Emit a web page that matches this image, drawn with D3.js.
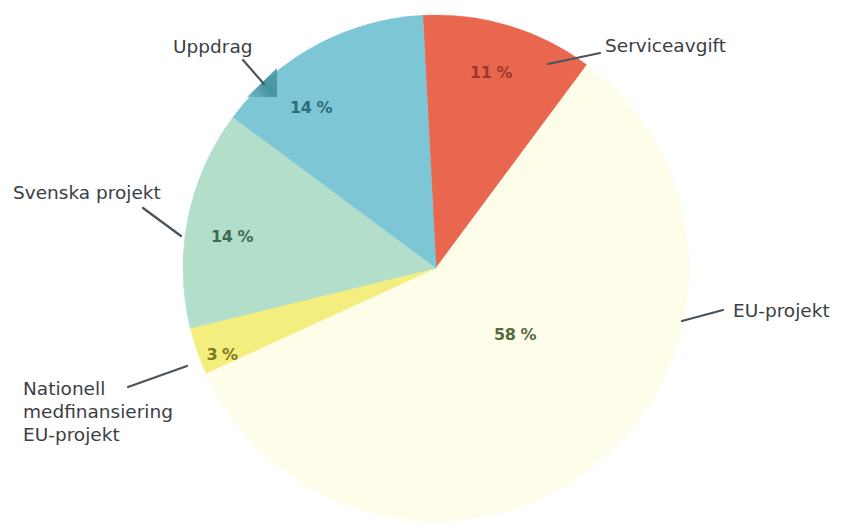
<!DOCTYPE html>
<html>
<head>
<meta charset="utf-8">
<script src="https://cdn.jsdelivr.net/npm/d3@7"></script>
<style>
  html, body { margin: 0; padding: 0; background: #fff; }
  svg { display: block; }
</style>
</head>
<body>
<svg id="chart" width="841" height="527"></svg>
<script>
// ---- data ----
const categories = ["Serviceavgift", "EU-projekt", "Nationell medfinansiering EU-projekt", "Svenska projekt", "Uppdrag"];
const values = [11, 58, 3, 14, 14];
const valueLabels = ["11 %", "58 %", "3 %", "14 %", "14 %"];

// ---- styling / layout ----
const sliceColors = ["#e9664f", "url(#euGrad)", "#f4ee7e", "#b3dec9", "#7dc6d6"];
const valueColors = ["#9b3a2c", "#566a3c", "#7c7a1c", "#3f6b56", "#2d6c7a"];
const cx = 436, cy = 268, radius = 253;
const startDeg = -3;

// value label positions (centre of text, baseline)
const valuePos = [[491, 78], [515, 340], [222, 360], [232, 242], [311, 113]];

// category labels: lines of text, anchor x, first baseline, leader line
const catLabels = [
  { lines: ["Serviceavgift"], x: 605, y: 52, leader: [548, 64, 600, 53] },
  { lines: ["EU-projekt"], x: 733, y: 317, leader: [682, 321, 723, 310] },
  { lines: ["Nationell", "medfinansiering", "EU-projekt"], x: 23, y: 395, leader: [128, 387, 187, 366] },
  { lines: ["Svenska projekt"], x: 13, y: 199, leader: [143, 208, 181, 236] },
  { lines: ["Uppdrag"], x: 173, y: 53, leader: [243, 60, 264, 84] }
];

const svg = d3.select("#chart");
const defs = svg.append("defs");
const rg = defs.append("radialGradient").attr("id", "euGrad")
  .attr("gradientUnits", "userSpaceOnUse")
  .attr("cx", cx - 30).attr("cy", cy + 40).attr("r", radius);
rg.append("stop").attr("offset", "0%").attr("stop-color", "#fafbd4");
rg.append("stop").attr("offset", "70%").attr("stop-color", "#fbfcdc");
rg.append("stop").attr("offset", "100%").attr("stop-color", "#fdfdea");

const tg = defs.append("linearGradient").attr("id", "triGrad")
  .attr("x1", "0%").attr("y1", "100%").attr("x2", "100%").attr("y2", "0%");
tg.append("stop").attr("offset", "0%").attr("stop-color", "#6fb7c3");
tg.append("stop").attr("offset", "50%").attr("stop-color", "#3f8f9a");
tg.append("stop").attr("offset", "100%").attr("stop-color", "#4e9ea9");

const pie = d3.pie().sort(null)
  .startAngle(startDeg * Math.PI / 180)
  .endAngle(startDeg * Math.PI / 180 + 2 * Math.PI);
const arcs = pie(values);
const arc = d3.arc().innerRadius(0).outerRadius(radius);

const g = svg.append("g").attr("transform", `translate(${cx},${cy})`);
g.selectAll("path.slice").data(arcs).enter().append("path")
  .attr("class", "slice")
  .attr("d", arc)
  .attr("fill", (d, i) => sliceColors[i])
  .attr("stroke", (d, i) => sliceColors[i].startsWith("url") ? "#fbfcdc" : sliceColors[i])
  .attr("stroke-width", 0.5);

// small wedge marker on Uppdrag leader
svg.append("path")
  .attr("d", "M277,68 L247,97 L277,97 Z")
  .attr("fill", "url(#triGrad)")
  .attr("opacity", 0.9);

// value labels
svg.selectAll("text.val").data(arcs).enter().append("text")
  .attr("class", "val")
  .attr("x", (d, i) => valuePos[i][0])
  .attr("y", (d, i) => valuePos[i][1])
  .attr("text-anchor", "middle")
  .attr("font-family", "DejaVu Sans, sans-serif")
  .attr("font-weight", "bold")
  .attr("font-size", 16)
  .attr("letter-spacing", -0.5)
  .attr("fill", (d, i) => valueColors[i])
  .text((d, i) => valueLabels[i]);

// leader lines
svg.selectAll("line.leader").data(catLabels).enter().append("line")
  .attr("class", "leader")
  .attr("x1", d => d.leader[0]).attr("y1", d => d.leader[1])
  .attr("x2", d => d.leader[2]).attr("y2", d => d.leader[3])
  .attr("stroke", "#48535b")
  .attr("stroke-width", 2.2)
  .attr("stroke-linecap", "round");

// category labels
const cl = svg.selectAll("text.cat").data(catLabels).enter().append("text")
  .attr("class", "cat")
  .attr("font-family", "DejaVu Sans, sans-serif")
  .attr("font-size", 18.5)
  .attr("fill", "#3b3e42");
cl.selectAll("tspan").data(d => d.lines.map((t, k) => ({ t, k, x: d.x, y: d.y })))
  .enter().append("tspan")
  .attr("x", d => d.x)
  .attr("y", d => d.y + d.k * 23)
  .text(d => d.t);
</script>
</body>
</html>
